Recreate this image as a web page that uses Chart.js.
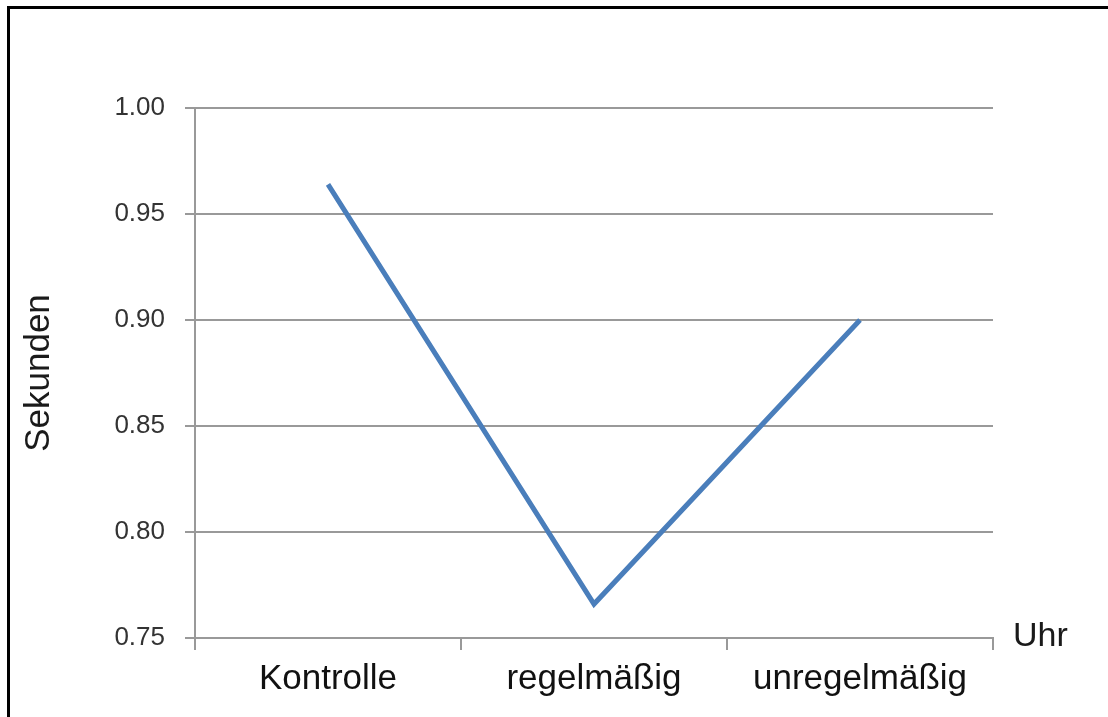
<!DOCTYPE html>
<html>
<head>
<meta charset="utf-8">
<script src="https://cdn.jsdelivr.net/npm/chart.js@4"></script>
<style>
  html, body { margin: 0; padding: 0; background: #fff; overflow: hidden; }
  #wrap { position: relative; width: 1108px; height: 717px; }
  #frame { position: absolute; left: 7px; top: 6px; width: 2000px; height: 2000px;
           border-left: 3px solid #000; border-top: 3px solid #000; box-sizing: border-box; pointer-events: none; }
  canvas { position: absolute; left: 0; top: 0; }
</style>
</head>
<body>
<div id="wrap">
  <canvas id="c" width="1108" height="717"></canvas>
  <div id="frame"></div>
</div>
<script>
const categories = ['Kontrolle', 'regelmäßig', 'unregelmäßig'];
const seconds = [0.964, 0.766, 0.900];
const yTickValues = [0.75, 0.80, 0.85, 0.90, 0.95, 1.00];
const yTitle = 'Sekunden';
const xTitle = 'Uhr';

const xTitlePlugin = {
  id: 'xTitleRight',
  afterDraw(chart) {
    const { ctx, chartArea } = chart;
    ctx.save();
    ctx.font = '34px "Liberation Sans", Arial, sans-serif';
    ctx.fillStyle = '#1a1a1a';
    ctx.textAlign = 'left';
    ctx.textBaseline = 'middle';
    ctx.fillText(xTitle, chartArea.right + 20, chartArea.bottom - 1);
    ctx.restore();
  }
};

new Chart(document.getElementById('c'), {
  type: 'line',
  data: {
    labels: categories,
    datasets: [{
      data: seconds,
      borderColor: '#4a7ebb',
      borderWidth: 5,
      pointRadius: 0,
      pointHoverRadius: 0,
      tension: 0,
      fill: false
    }]
  },
  options: {
    responsive: false,
    animation: false,
    events: [],
    layout: { padding: { top: 108, right: 115, left: 0, bottom: 0 } },
    plugins: { legend: { display: false }, tooltip: { enabled: false } },
    font: { family: '"Liberation Sans", Arial, sans-serif' },
    scales: {
      x: {
        type: 'category',
        offset: true,
        afterFit(s) { s.height = 79; },
        grid: { offset: true, drawOnChartArea: false, drawTicks: true, tickLength: 12, color: '#999999', lineWidth: 2 },
        border: { display: true, color: '#999999', width: 2 },
        ticks: { color: '#111111', padding: 8, font: { family: '"Liberation Sans", Arial, sans-serif', size: 35 }, maxRotation: 0, autoSkip: false }
      },
      y: {
        min: 0.75,
        max: 1.0,
        afterFit(s) { s.width = 195; },
        afterBuildTicks(s) { s.ticks = yTickValues.map(v => ({ value: v })); },
        grid: { color: '#999999', lineWidth: 2, drawTicks: true, tickLength: 10 },
        border: { display: true, color: '#999999', width: 2 },
        ticks: { color: '#333333', padding: 20, font: { family: '"Liberation Sans", Arial, sans-serif', size: 26 },
                 callback: (v) => Number(v).toFixed(2) },
        title: { display: true, text: yTitle, color: '#1a1a1a', padding: { top: 18, bottom: 0 },
                 font: { family: '"Liberation Sans", Arial, sans-serif', size: 35 } }
      }
    }
  },
  plugins: [xTitlePlugin]
});
</script>
</body>
</html>
